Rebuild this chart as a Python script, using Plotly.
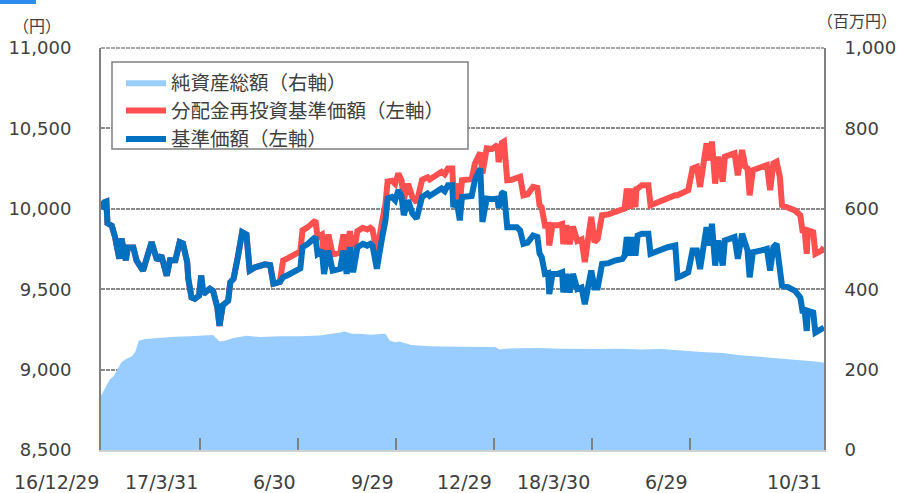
import plotly.graph_objects as go
import pandas as pd

start_date = "2016-12-29"

# days since start_date for the NAV series
nav_days = [
    0, 3, 5, 6, 10, 13, 17, 19, 23, 25,
    30, 33, 39, 43, 47, 52, 56, 61, 64, 69,
    73, 76, 80, 81, 84, 87, 91, 93, 95, 101,
    104, 108, 110, 113, 118, 120, 123, 127, 131, 135,
    138, 143, 152, 157, 160, 166, 169, 174, 180, 185,
    187, 192, 199, 201, 205, 207, 211, 215, 222, 225,
    228, 231, 234, 238, 243, 247, 250, 252, 256, 259,
    261, 264, 266, 270, 273, 276, 279, 281, 285, 289,
    293, 298, 303, 305, 310, 316, 319, 322, 326, 327,
    330, 333, 335, 340, 344, 347, 352, 354, 358, 363,
    368, 369, 372, 374, 377, 381, 386, 389, 392, 396,
    401, 405, 407, 409, 412, 415, 416, 419, 424, 428,
    429, 432, 435, 438, 442, 446, 449, 452, 455, 458,
    461, 465, 471, 477, 484, 486, 488, 491, 493, 496,
    497, 498, 502, 508, 510, 517, 526, 533, 535, 539,
    545, 549, 553, 556, 559, 562, 565, 567, 570, 573,
    577, 579, 588, 591, 595, 598, 600, 602, 605, 613,
    618, 621, 624, 627, 630, 632, 638, 644, 649, 651,
    653, 655, 656, 661, 663, 669, 671,
]

nav = [  # 基準価額 (円)
    10000, 10040, 10045, 9910, 9895, 9825, 9690, 9815, 9680, 9760,
    9760, 9678, 9616, 9720, 9793, 9680, 9709, 9584, 9680, 9680,
    9793, 9785, 9668, 9565, 9449, 9440, 9460, 9584, 9470, 9503,
    9490, 9386, 9272, 9400, 9428, 9543, 9565, 9700, 9855, 9840,
    9616, 9636, 9655, 9650, 9534, 9545, 9575, 9590, 9616, 9630,
    9761, 9782, 9824, 9720, 9740, 9595, 9740, 9616, 9627, 9740,
    9595, 9761, 9605, 9761, 9782, 9771, 9782, 9771, 9627, 9782,
    9824, 9928, 10064, 10074, 10053, 10116, 10074, 9960, 10053, 9970,
    9939, 10074, 10095, 10080, 10105, 10126, 10110, 10147, 10147, 10011,
    10053, 9928, 10074, 10074, 10080, 10178, 10251, 9918, 10064, 10060,
    10064, 10005, 10095, 10105, 9886, 9886, 9886, 9865, 9782, 9790,
    9834, 9825, 9722, 9700, 9595, 9600, 9470, 9595, 9595, 9605,
    9480, 9595, 9480, 9595, 9501, 9511, 9407, 9511, 9616, 9511,
    9511, 9657, 9662, 9678, 9689, 9709, 9824, 9709, 9824, 9709,
    9834, 9834, 9845, 9845, 9720, 9741, 9761, 9772, 9574, 9584,
    9605, 9741, 9741, 9626, 9751, 9886, 9772, 9907, 9647, 9803,
    9647, 9803, 9824, 9689, 9845, 9761, 9741, 9574, 9730, 9741,
    9751, 9616, 9761, 9782, 9657, 9522, 9511, 9490, 9449, 9366,
    9366, 9241, 9366, 9355, 9230, 9251, 9262,
]

nav_reinvested = [  # 分配金再投資基準価額 (円)
    10000, 10040, 10045, 9910, 9895, 9825, 9690, 9815, 9680, 9760,
    9760, 9678, 9616, 9720, 9793, 9680, 9709, 9584, 9680, 9680,
    9793, 9785, 9668, 9565, 9449, 9440, 9460, 9584, 9470, 9503,
    9490, 9386, 9272, 9400, 9428, 9543, 9565, 9700, 9855, 9840,
    9616, 9636, 9655, 9650, 9534, 9545, 9678, 9695, 9720, 9735,
    9866, 9886, 9928, 9825, 9840, 9700, 9840, 9716, 9727, 9840,
    9695, 9861, 9705, 9861, 9882, 9871, 9882, 9871, 9727, 9882,
    9924, 10030, 10170, 10175, 10155, 10220, 10175, 10060, 10155, 10072,
    10040, 10180, 10195, 10182, 10205, 10230, 10215, 10250, 10250, 10116,
    10155, 10030, 10178, 10180, 10185, 10280, 10350, 10220, 10376, 10372,
    10397, 10290, 10410, 10418, 10178, 10180, 10190, 10199, 10084, 10090,
    10136, 10130, 10022, 10010, 9897, 9900, 9772, 9897, 9897, 9905,
    9780, 9897, 9780, 9890, 9800, 9810, 9668, 9810, 9949, 9793,
    9814, 9960, 9965, 9980, 9990, 10001, 10126, 10001, 10126, 10010,
    10136, 10126, 10147, 10147, 10022, 10043, 10064, 10084, 10084, 10095,
    10116, 10251, 10261, 10136, 10272, 10407, 10303, 10418, 10157, 10324,
    10168, 10324, 10345, 10209, 10366, 10261, 10251, 10084, 10240, 10261,
    10272, 10116, 10282, 10293, 10199, 10022, 10001, 9990, 9960, 9866,
    9866, 9720, 9866, 9855, 9720, 9741, 9761,
]

# days since start_date for net assets
asset_days = [
    0, 3, 8, 12, 16, 19, 23, 29, 32, 35,
    41, 55, 69, 83, 97, 104, 107, 110, 115, 122,
    135, 148, 166, 185, 203, 213, 222, 226, 233, 240,
    250, 264, 268, 273, 277, 288, 305, 333, 366, 370,
    375, 389, 407, 426, 445, 464, 482, 500, 520, 538,
    557, 577, 593, 612, 630, 649, 663, 671,
]
net_assets = [  # 純資産総額 (百万円)
    135, 150, 175, 185, 205, 218, 226, 234, 245, 272,
    276, 279, 282, 283, 285, 286, 278, 270, 272, 278,
    284, 281, 283, 283, 285, 288, 292, 295, 289, 289,
    287, 289, 272, 268, 270, 261, 258, 257, 256, 250,
    252, 253, 254, 252, 251, 251, 252, 250, 251, 247,
    244, 241, 236, 232, 227, 223, 220, 217,
]

tick_dates = ["2016-12-29", "2017-03-31", "2017-06-30", "2017-09-29",
              "2017-12-29", "2018-03-30", "2018-06-29", "2018-10-31"]
tick_labels = ["16/12/29", "17/3/31", "6/30", "9/29",
               "12/29", "18/3/30", "6/29", "10/31"]

d0 = pd.Timestamp(start_date)
nav_dates = [d0 + pd.Timedelta(days=d) for d in nav_days]
asset_dates = [d0 + pd.Timedelta(days=d) for d in asset_days]

TXT = "#404040"
GRID = "#8a8a8a"
AX = "#808080"
TICKFONT = dict(family="DejaVu Sans", size=18, color=TXT)
DATEFONT = dict(family="DejaVu Sans", size=19, color=TXT)

fig = go.Figure()
fig.add_trace(go.Scatter(
    x=asset_dates, y=net_assets, name="純資産総額（右軸）", mode="lines",
    fill="tozeroy", fillcolor="#99CCFF", line=dict(width=0, color="#99CCFF"),
    yaxis="y", legendgroup="a"))
fig.add_trace(go.Scatter(
    x=nav_dates, y=nav_reinvested, name="分配金再投資基準価額（左軸）", mode="lines",
    line=dict(width=6, color="#FF5050"), yaxis="y2", legendgroup="b"))
fig.add_trace(go.Scatter(
    x=nav_dates, y=nav, name="基準価額（左軸）", mode="lines",
    line=dict(width=6, color="#0070C0"), yaxis="y2", legendgroup="c"))

annotations = []
for d, t in zip(tick_dates, tick_labels):
    annotations.append(dict(x=d, y=-0.0796, xref="x", yref="paper", text=t,
                            showarrow=False, xanchor="right", yanchor="middle",
                            font=DATEFONT))
annotations.append(dict(x=-0.0885, y=1.057, xref="paper", yref="paper", text="（円）",
                        showarrow=False, xanchor="center", yanchor="middle",
                        font=dict(family="Noto Sans CJK JP", size=16, color=TXT)))
annotations.append(dict(x=1.0456, y=1.070, xref="paper", yref="paper", text="（百万円）",
                        showarrow=False, xanchor="center", yanchor="middle",
                        font=dict(family="Noto Sans CJK JP", size=16, color=TXT)))

fig.update_layout(
    width=898, height=493,
    margin=dict(l=101, r=74, t=48, b=43),
    paper_bgcolor="white", plot_bgcolor="white",
    showlegend=True,
    legend=dict(x=20 / 723, y=(450 - 63) / 402, xanchor="left", yanchor="top",
                borderwidth=0, bgcolor="rgba(0,0,0,0)",
                tracegroupgap=3, traceorder="normal", itemwidth=40,
                font=dict(family="Noto Sans CJK JP", size=19.5, color=TXT)),
    xaxis=dict(type="date", range=[tick_dates[0], tick_dates[-1]],
               tickvals=tick_dates[1:-1], ticks="inside", ticklen=12,
               tickcolor=AX, tickwidth=1.5, showticklabels=False,
               showgrid=False, zeroline=False, showline=True,
               linecolor="#d0d0d0", linewidth=2, automargin=False),
    yaxis=dict(side="right", range=[0, 1000], dtick=200, tick0=0,
               tickformat=",", showgrid=True, gridcolor=GRID, gridwidth=1.5,
               griddash="4px,1px", zeroline=False, showline=True,
               linecolor=AX, linewidth=2, ticks="", ticklabelstandoff=15,
               tickfont=TICKFONT, automargin=False),
    yaxis2=dict(side="left", overlaying="y", range=[8500, 11000], dtick=500,
                tick0=8500, tickformat=",", showgrid=False, zeroline=False,
                showline=True, linecolor=AX, linewidth=2, ticks="",
                ticklabelstandoff=24, tickfont=TICKFONT, automargin=False),
    annotations=annotations,
    shapes=[
        dict(type="rect", xref="paper", yref="paper",
             x0=-101 / 723, x1=(-101 + 36) / 723,
             y0=(450 - 4) / 402, y1=450 / 402,
             fillcolor="#2E8BF0", line=dict(width=0)),
        # top frame line (gridline at the top of the range)
        dict(type="line", xref="paper", yref="paper", layer="below",
             x0=0, x1=1, y0=1, y1=1,
             line=dict(color=GRID, width=1.5, dash="4px,1px")),
        # legend frame
        dict(type="rect", xref="paper", yref="paper", layer="above",
             x0=11 / 723, x1=367 / 723,
             y0=(450 - 149) / 402, y1=(450 - 62) / 402,
             fillcolor="white", line=dict(color=AX, width=1.5)),
    ],
)

fig.write_html("out.html", config={"displayModeBar": False},
               post_script="document.body.style.margin='0';")
